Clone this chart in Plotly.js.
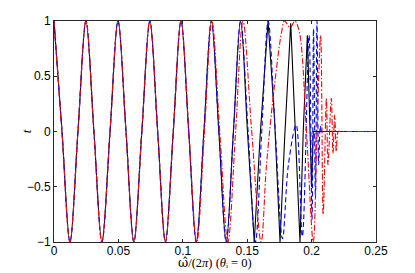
<!DOCTYPE html>
<html>
<head>
<meta charset="utf-8">
<script src="https://cdn.plot.ly/plotly-3.0.1.min.js"></script>
<style>
  html, body { margin: 0; padding: 0; background: #fff; }
  #chart { width: 415px; height: 273px; }
</style>
</head>
<body>
<div id="chart"></div>
<script>
// x values: omega-hat / (2 pi);  y values: t
const blackX = [0, 0.0062, 0.0124, 0.0186, 0.0248, 0.0310, 0.0372, 0.0435, 0.0497, 0.0559, 0.0620, 0.0682, 0.0744, 0.0805, 0.0865, 0.0926, 0.0986, 0.1046, 0.1105, 0.1164, 0.1222, 0.1280, 0.1337, 0.1393, 0.1449, 0.1502, 0.1555, 0.1600, 0.1662, 0.1712, 0.1755, 0.1790, 0.1838, 0.1875, 0.1910, 0.1935, 0.1967, 0.2000, 0.2013, 0.2100, 0.2500];
const blackY = [1, 0, -1, 0, 1, 0, -1, 0, 1, 0, -1, 0, 1, 0, -1, 0, 1, 0, -1, 0, 1, 0, -1, 0, 1, 0, -1, -0.05, 1, 0.12, -1, -0.08, 0.98, 0.03, -1, 0, 0.87, -0.5, 0, 0, 0];

const blueX = [0, 0.0062, 0.0124, 0.0186, 0.0248, 0.0310, 0.0372, 0.0435, 0.0497, 0.0559, 0.0620, 0.0682, 0.0744, 0.0805, 0.0865, 0.0926, 0.0986, 0.1046, 0.1105, 0.1164, 0.1222, 0.1280, 0.1337, 0.1393, 0.1449, 0.1507, 0.1564, 0.1613, 0.1663, 0.1718, 0.1774, 0.1820, 0.1880, 0.1928, 0.1980, 0.2003, 0.2015, 0.2030, 0.2042, 0.2055, 0.2068, 0.2078, 0.2090, 0.2110, 0.2500];
const blueY = [1, 0, -1, 0, 1, 0, -1, 0, 1, 0, -1, 0, 1, 0, -1, 0, 1, 0, -1, 0, 1, 0, -1, 0, 1, 0, -1, 0, 1, 0, -0.97, -0.3, 0.06, -0.95, 0.87, -0.8, 0.93, -0.6, 1.0, -0.3, 0.05, 0, 0, 0, 0];

const redX = [0, 0.0062, 0.0124, 0.0186, 0.0248, 0.0310, 0.0372, 0.0435, 0.0497, 0.0559, 0.0620, 0.0682, 0.0744, 0.0805, 0.0865, 0.0926, 0.0986, 0.1047, 0.1108, 0.1168, 0.1226, 0.1287, 0.1350, 0.1410, 0.1467, 0.1535, 0.1608, 0.1650, 0.1715, 0.1767, 0.1790, 0.1835, 0.1870, 0.1905, 0.1960, 0.2013, 0.2042, 0.2070, 0.2090, 0.2115, 0.2127, 0.2153, 0.2166, 0.2179, 0.2192, 0.2207, 0.2220, 0.2240, 0.2500];
const redY = [1, 0, -1, 0, 1, 0, -1, 0, 1, 0, -1, 0, 1, 0, -1, 0, 1, 0, -1, 0, 1, 0, -1, 0, 1, 0, -1, -0.3, 0.45, 0.9, 1.0, 0.94, 1.0, 0.9, 0, -1, 0, 0.87, -0.75, 0.3, -0.3, 0.3, -0.2, 0.15, -0.18, 0, 0, 0, 0];

const xTicks = [0, 0.05, 0.1, 0.15, 0.2, 0.25];
const xTickText = ['0', '0.05', '0.1', '0.15', '0.2', '0.25'];
const yTicks = [-1, -0.5, 0, 0.5, 1];
const yTickText = ['\u22121', '\u22120.5', '0', '0.5', '1'];

// the black curve is smooth in its regular part and kinked (straight pieces) past index 26
const split = 26;

const base = { mode: 'lines', showlegend: false, hoverinfo: 'skip' };
const traces = [
  Object.assign({}, base, { x: blackX.slice(0, split + 1), y: blackY.slice(0, split + 1), line: { color: '#000000', width: 1.1, shape: 'spline', smoothing: 1 } }),
  Object.assign({}, base, { x: blackX.slice(split), y: blackY.slice(split), line: { color: '#000000', width: 1.1, shape: 'linear' } }),
  Object.assign({}, base, { x: blueX, y: blueY, line: { color: '#0000ff', width: 1.1, dash: '5px,3px', shape: 'spline', smoothing: 1 } }),
  Object.assign({}, base, { x: redX, y: redY, line: { color: '#ff0000', width: 1.1, dash: '6px,2px,1.5px,2px', shape: 'spline', smoothing: 1 } })
];

const axisCommon = {
  showgrid: false, zeroline: false, showline: true, linecolor: '#262626', linewidth: 1,
  mirror: 'allticks', ticks: 'inside', ticklen: 3, tickcolor: '#262626', tickwidth: 1,
  tickfont: { family: 'Liberation Sans, Arial, sans-serif', size: 12, color: '#000' }
};

const layout = {
  width: 415, height: 273,
  margin: { l: 54, r: 39, t: 21, b: 31, pad: 0 },
  paper_bgcolor: '#ffffff', plot_bgcolor: '#ffffff',
  xaxis: Object.assign({}, axisCommon, {
    range: [0, 0.25], tickmode: 'array', tickvals: xTicks, ticktext: xTickText, ticklabelstandoff: -2
  }),
  yaxis: Object.assign({}, axisCommon, {
    range: [-1, 1], tickmode: 'array', tickvals: yTicks, ticktext: yTickText
  }),
  annotations: [
    {
      xref: 'paper', yref: 'paper', x: 0.5, y: -0.137, xanchor: 'center', yanchor: 'bottom', showarrow: false,
      text: '<span style="font-family:DejaVu Serif">\u03c9\u0302</span>/(2<i>π</i>) (<i>θ</i>\u1d62 = 0)',
      font: { family: 'Liberation Serif, serif', size: 12.5, color: '#000' }
    },
    {
      xref: 'paper', yref: 'paper', x: -0.085, y: 0.5, xanchor: 'center', yanchor: 'middle', showarrow: false,
      textangle: -90, text: '<i>t</i>',
      font: { family: 'Liberation Serif, serif', size: 13, color: '#000' }
    }
  ]
};

Plotly.newPlot('chart', traces, layout, { staticPlot: true, displayModeBar: false });
</script>
</body>
</html>
